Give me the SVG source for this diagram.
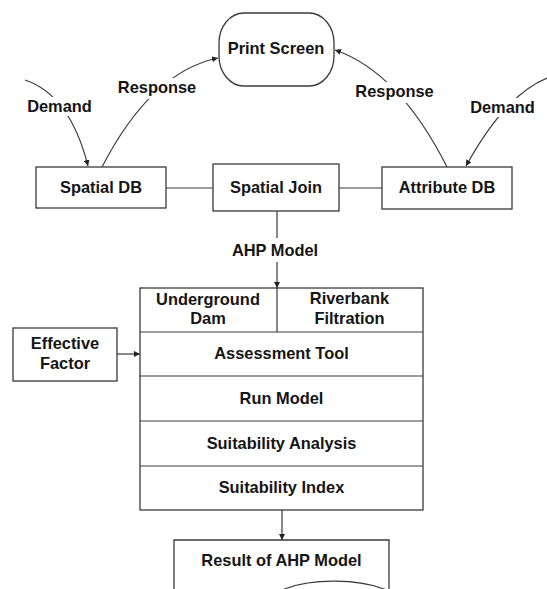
<svg xmlns="http://www.w3.org/2000/svg" width="547" height="589" viewBox="0 0 547 589">
  <style>
    .box { fill: #ffffff; stroke: #3a3a3a; stroke-width: 1.3; }
    .line { fill: none; stroke: #3a3a3a; stroke-width: 1.2; }
    .lbl { font-family: "Liberation Sans", Arial, sans-serif; font-weight: bold; font-size: 16.4px; fill: #151515; text-anchor: middle; }
    .bg { fill: #ffffff; }
  </style>
  <defs>
    <marker id="arrow" viewBox="0 0 10 10" refX="10" refY="5" markerWidth="6" markerHeight="6" markerUnits="userSpaceOnUse" orient="auto">
      <path d="M0,0 L10,5 L0,10 Z" fill="#222222"/>
    </marker>
  </defs>
  <rect width="547" height="589" fill="#ffffff"/>

  <!-- connectors -->
  <g id="connectors">
    <!-- demand / response curves -->
    <path class="line" d="M25,80 Q70,95 88,166" marker-end="url(#arrow)"/>
    <path class="line" d="M102,167 Q151,72 218,58" marker-end="url(#arrow)"/>
    <path class="line" d="M447,167 Q399,72 335,50" marker-end="url(#arrow)"/>
    <path class="line" d="M547,78 Q505,95 466,166" marker-end="url(#arrow)"/>
    <!-- label knockouts -->
    <rect class="bg" x="25" y="97" width="69" height="19"/>
    <rect class="bg" x="116" y="78" width="83" height="21"/>
    <rect class="bg" x="353" y="82" width="83" height="21"/>
    <rect class="bg" x="467" y="98" width="70" height="19"/>
    <!-- horizontal links -->
    <path class="line" d="M166,188 H213"/>
    <path class="line" d="M339,188 H382"/>
    <!-- AHP model link -->
    <path class="line" d="M277,211 V238"/>
    <path class="line" d="M277,262 V288" marker-end="url(#arrow)"/>
    <!-- effective factor -->
    <path class="line" d="M117,354 H140" marker-end="url(#arrow)"/>
    <!-- result -->
    <path class="line" d="M282,510 V540" marker-end="url(#arrow)"/>
  </g>

  <!-- labels on connectors -->
  <g id="connector-labels">
    <text class="lbl" x="59.5" y="112">Demand</text>
    <text class="lbl" x="157" y="93">Response</text>
    <text class="lbl" x="394.5" y="97">Response</text>
    <text class="lbl" x="502.5" y="113">Demand</text>
    <text class="lbl" x="275" y="256">AHP Model</text>
  </g>

  <g id="print-screen">
    <rect class="box" x="219" y="13" width="115" height="73" rx="25" ry="30"/>
    <text class="lbl" x="276" y="54">Print Screen</text>
  </g>

  <g id="spatial-db">
    <rect class="box" x="36" y="167" width="130" height="41"/>
    <text class="lbl" x="101" y="193">Spatial DB</text>
  </g>

  <g id="spatial-join">
    <rect class="box" x="213" y="164" width="126" height="47"/>
    <text class="lbl" x="276" y="193">Spatial Join</text>
  </g>

  <g id="attribute-db">
    <rect class="box" x="382" y="167" width="130" height="42"/>
    <text class="lbl" x="447" y="193">Attribute DB</text>
  </g>

  <g id="effective-factor">
    <rect class="box" x="13" y="328" width="104" height="53"/>
    <text class="lbl" x="65" y="349">Effective</text>
    <text class="lbl" x="65" y="369">Factor</text>
  </g>

  <g id="ahp-stack">
    <rect class="box" x="140" y="288" width="283" height="222"/>
    <path class="line" d="M140,332 H423 M140,376 H423 M140,421 H423 M140,466 H423 M277,288 V332"/>
  </g>

  <g id="underground-dam">
    <text class="lbl" x="208" y="305">Underground</text>
    <text class="lbl" x="208" y="324">Dam</text>
  </g>

  <g id="riverbank-filtration">
    <text class="lbl" x="349.5" y="304">Riverbank</text>
    <text class="lbl" x="349.5" y="324">Filtration</text>
  </g>

  <g id="assessment-tool">
    <text class="lbl" x="281.5" y="359">Assessment Tool</text>
  </g>

  <g id="run-model">
    <text class="lbl" x="281.5" y="404">Run Model</text>
  </g>

  <g id="suitability-analysis">
    <text class="lbl" x="281.5" y="449">Suitability Analysis</text>
  </g>

  <g id="suitability-index">
    <text class="lbl" x="281.5" y="493">Suitability Index</text>
  </g>

  <g id="result">
    <path class="box" d="M174,540 H389 V591 C360,578 310,578 282,590 C250,605 200,605 174,595 Z"/>
    <text class="lbl" x="281.5" y="566">Result of AHP Model</text>
  </g>
</svg>
